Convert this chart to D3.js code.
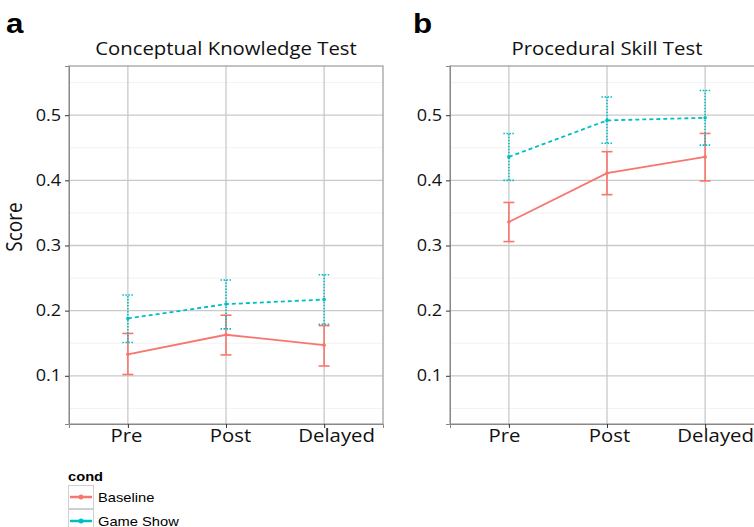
<!DOCTYPE html>
<meta charset="utf-8">
<body style="margin:0;background:#fff">
<script src="https://d3js.org/d3.v7.min.js" charset="utf-8"></script>
<style type="text/css">
  .title { font-family: "Open Sans", Lato, sans-serif; font-size: 18px; fill: #111; }
  .tick text { font-family: "Open Sans", Lato, sans-serif; fill: #111; }
  .tag { font-family: "Liberation Sans", Arial, sans-serif; font-weight: bold; font-size: 28px; }
  .legend { font-family: "Liberation Sans", Arial, sans-serif; font-size: 13px; }
</style>
<script>
var width = 754;
var height = 527;
var stretch = 1.13; // the source picture is a bit wider than tall

var times = ["Pre", "Post", "Delayed"];
var conds = ["Baseline", "Game Show"];
var yTicks = [0.1, 0.2, 0.3, 0.4, 0.5];
var yMinor = [0.05, 0.15, 0.25, 0.35, 0.45, 0.55];

// panel a: Conceptual Knowledge Test
var conceptBaseline = [0.133, 0.163, 0.147];
var conceptBaselineLo = [0.102, 0.132, 0.115];
var conceptBaselineHi = [0.165, 0.193, 0.177];
var conceptGame = [0.188, 0.210, 0.217];
var conceptGameLo = [0.151, 0.172, 0.179];
var conceptGameHi = [0.224, 0.247, 0.255];

// panel b: Procedural Skill Test
var procBaseline = [0.336, 0.411, 0.436];
var procBaselineLo = [0.306, 0.378, 0.399];
var procBaselineHi = [0.366, 0.444, 0.472];
var procGame = [0.436, 0.492, 0.496];
var procGameLo = [0.400, 0.457, 0.454];
var procGameHi = [0.472, 0.528, 0.538];

var colors = { "Baseline": "#F8766D", "Game Show": "#00BFC4" };

var svg = d3.select("body")
            .append("svg")
            .attr("width", width)
            .attr("height", height);

// labelShift: the x labels in the source sit a little off their ticks
var panels = [
  { tag: "a", title: "Conceptual Knowledge Test", left: 69, tagX: 6, score: true,
    labelShift: [-2, 4, 12],
    series: [
      { cond: "Baseline", mean: conceptBaseline, lo: conceptBaselineLo, hi: conceptBaselineHi },
      { cond: "Game Show", mean: conceptGame, lo: conceptGameLo, hi: conceptGameHi }
    ] },
  { tag: "b", title: "Procedural Skill Test", left: 450, tagX: 413, score: false,
    labelShift: [-5, 2, 10],
    series: [
      { cond: "Baseline", mean: procBaseline, lo: procBaselineLo, hi: procBaselineHi },
      { cond: "Game Show", mean: procGame, lo: procGameLo, hi: procGameHi }
    ] }
];

var plotTop = 66, plotBottom = 424, panelW = 314;

var y = d3.scaleLinear()
          .domain([0.026, 0.5755])
          .range([plotBottom, plotTop]);

panels.forEach(function(p) {
  var x = d3.scalePoint()
            .domain(times)
            .range([p.left, p.left + panelW])
            .padding(0.6);

  var g = svg.append("g");

  // panel background grids
  g.selectAll(".minor")
    .data(yMinor)
    .enter()
    .append("line")
    .attr("x1", p.left).attr("x2", p.left + panelW)
    .attr("y1", function(d) { return y(d); })
    .attr("y2", function(d) { return y(d); })
    .attr("stroke", "#f2f2f2")
    .attr("stroke-width", 1);

  g.selectAll(".major")
    .data(yTicks)
    .enter()
    .append("line")
    .attr("x1", p.left).attr("x2", p.left + panelW)
    .attr("y1", function(d) { return y(d); })
    .attr("y2", function(d) { return y(d); })
    .attr("stroke", "#c9c9c9")
    .attr("stroke-width", 1.3);

  g.selectAll(".vgrid")
    .data(times)
    .enter()
    .append("line")
    .attr("x1", function(d) { return x(d); })
    .attr("x2", function(d) { return x(d); })
    .attr("y1", plotTop).attr("y2", plotBottom)
    .attr("stroke", "#c9c9c9")
    .attr("stroke-width", 1.3);

  // border
  g.append("rect")
    .attr("x", p.left).attr("y", plotTop)
    .attr("width", panelW).attr("height", plotBottom - plotTop)
    .attr("fill", "none")
    .attr("stroke", "#9a9a9a")
    .attr("stroke-width", 1.2);

  // axes
  var yAxis = d3.axisLeft(y).tickValues(yTicks).tickSize(4).tickPadding(3).tickFormat(d3.format(".1f"));
  var ya = g.append("g")
    .attr("transform", "translate(" + p.left + ",0)")
    .call(yAxis);
  ya.select(".domain").attr("stroke", "#888");
  ya.selectAll(".tick line").attr("stroke", "#333");
  ya.selectAll(".tick text")
    .style("font-size", "16px")
    .attr("transform", "scale(" + stretch + ",1)");

  var xAxis = d3.axisBottom(x).tickSize(4).tickPadding(1);
  var xa = g.append("g")
    .attr("transform", "translate(0," + plotBottom + ")")
    .call(xAxis);
  xa.select(".domain").attr("stroke", "#888");
  xa.selectAll(".tick line").attr("stroke", "#333");
  xa.selectAll(".tick text")
    .style("font-size", "18px")
    .attr("transform", function(d, i) {
      return "translate(" + p.labelShift[i] + ",0) scale(" + stretch + ",1)";
    });

  g.append("text")
    .attr("class", "title")
    .attr("transform", "translate(" + (p.left + panelW / 2) + ",55) scale(" + stretch + ",1)")
    .attr("text-anchor", "middle")
    .text(p.title);

  g.append("text")
    .attr("class", "tag")
    .attr("transform", "translate(" + p.tagX + ",33) scale(1.12,1)")
    .text(p.tag);

  if (p.score) {
    g.append("text")
      .attr("class", "title")
      .attr("transform", "translate(22,227) rotate(-90) scale(1," + stretch + ")")
      .attr("text-anchor", "middle")
      .style("font-size", "19px")
      .text("Score");
  }

  p.series.forEach(function(s) {
    var col = colors[s.cond];
    var dashedLine = s.cond === "Game Show";
    var pts = times.map(function(t, i) {
      return { t: t, m: s.mean[i], lo: s.lo[i], hi: s.hi[i] };
    });

    // error bars
    var eb = g.append("g").selectAll("g").data(pts).enter().append("g");
    var ebDash = dashedLine ? "1.5,1.5" : null;
    eb.append("line")
      .attr("x1", function(d) { return x(d.t); })
      .attr("x2", function(d) { return x(d.t); })
      .attr("y1", function(d) { return y(d.lo); })
      .attr("y2", function(d) { return y(d.hi); })
      .attr("stroke", col).attr("stroke-width", 1.6)
      .attr("stroke-dasharray", ebDash);
    ["lo", "hi"].forEach(function(k) {
      eb.append("line")
        .attr("x1", function(d) { return x(d.t) - 5.5; })
        .attr("x2", function(d) { return x(d.t) + 5.5; })
        .attr("y1", function(d) { return y(d[k]); })
        .attr("y2", function(d) { return y(d[k]); })
        .attr("stroke", col).attr("stroke-width", 1.6)
        .attr("stroke-dasharray", ebDash);
    });

    var line = d3.line()
                 .x(function(d) { return x(d.t); })
                 .y(function(d) { return y(d.m); });
    g.append("path")
      .datum(pts)
      .attr("d", line)
      .attr("fill", "none")
      .attr("stroke", col)
      .attr("stroke-width", 1.8)
      .attr("stroke-dasharray", dashedLine ? "4,3" : null);

    g.append("g").selectAll("circle")
      .data(pts)
      .enter()
      .append("circle")
      .attr("cx", function(d) { return x(d.t); })
      .attr("cy", function(d) { return y(d.m); })
      .attr("r", 1.8)
      .attr("fill", col);
  });
});

// legend
var lg = svg.append("g").attr("class", "legend");
lg.append("text")
  .attr("transform", "translate(68,481) scale(" + stretch + ",1)")
  .style("font-weight", "bold")
  .text("cond");

var keys = lg.selectAll(".key")
  .data(conds)
  .enter()
  .append("g")
  .attr("transform", function(d, i) { return "translate(68," + (485 + i * 24) + ")"; });

keys.append("rect")
  .attr("x", 0.5).attr("y", 0.5)
  .attr("width", 25).attr("height", 23)
  .attr("fill", "#fff")
  .attr("stroke", "#cfcfcf");
keys.append("line")
  .attr("x1", 2).attr("x2", 24)
  .attr("y1", 12).attr("y2", 12)
  .attr("stroke", function(d) { return colors[d]; })
  .attr("stroke-width", 2.5);
keys.append("circle")
  .attr("cx", 13).attr("cy", 12).attr("r", 2.5)
  .attr("fill", function(d) { return colors[d]; });
keys.append("text")
  .attr("transform", "translate(30,17) scale(" + stretch + ",1)")
  .text(function(d) { return d; });
</script>
</body>
</html>
